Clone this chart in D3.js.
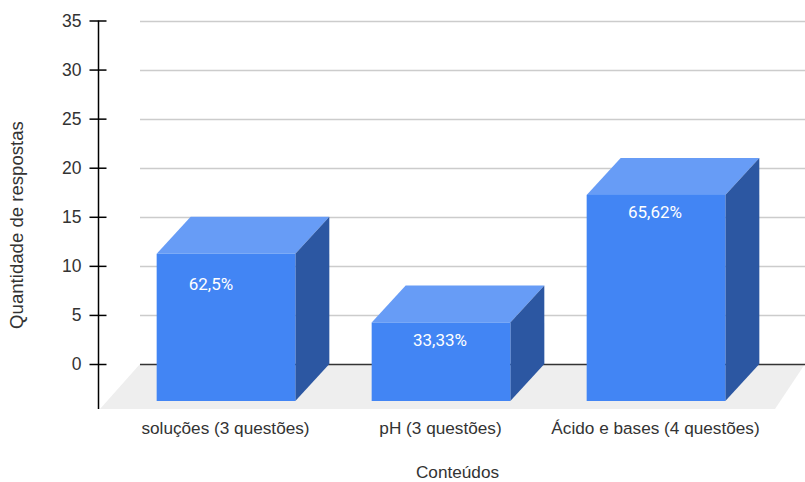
<!DOCTYPE html>
<html>
<head>
<meta charset="utf-8">
<script src="https://cdn.jsdelivr.net/npm/d3@7"></script>
<style>
html, body { margin: 0; padding: 0; background: #fff; }
svg { display: block; }
text { font-family: "Liberation Sans", Arial, sans-serif; }
</style>
</head>
<body>
<svg id="chart" width="805" height="482"></svg>
<script>
const categories = ["soluções (3 questões)", "pH (3 questões)", "Ácido e bases (4 questões)"];
const responses = [15, 8, 21];
const percentLabels = ["62,5%", "33,33%", "65,62%"];
const yTicks = [0, 5, 10, 15, 20, 25, 30, 35];
const xTitle = "Conteúdos";
const yTitle = "Quantidade de respostas";

const svg = d3.select("#chart");

// Oblique projection: the back wall is shifted up and to the right of the bar fronts.
const depthX = 34, depthY = 37;
const y = d3.scaleLinear().domain([0, 35]).range([364, 20.5]);
const x = d3.scaleBand().domain(categories).range([118.5, 763.5]).paddingInner(0.355).paddingOuter(0.1775);

// Floor
svg.append("polygon")
  .attr("points", "140,364 805,364 775,409 100,409")
  .attr("fill", "#eeeeee");

// Back wall grid
svg.append("g").selectAll("line")
  .data(yTicks)
  .join("line")
  .attr("x1", 140).attr("x2", 805)
  .attr("y1", d => Math.round(y(d)) + 0.5).attr("y2", d => Math.round(y(d)) + 0.5)
  .attr("stroke", d => d === 0 ? "#333" : "#ccc")
  .attr("stroke-width", 1.5);

// Value axis
const axis = d3.axisLeft(y).tickValues(yTicks).tickFormat(d3.format("d")).tickSize(9).tickSizeOuter(0);
const axisG = svg.append("g").attr("transform", "translate(98.5,0)").call(axis);
axisG.select(".domain").remove();
axisG.selectAll(".tick line").attr("x1", -9).attr("x2", 8).attr("stroke", "#000").attr("stroke-width", 1.5);
axisG.selectAll(".tick text").attr("x", -17).attr("font-size", 17.5).attr("fill", "#333")
  .style("font-family", '"Liberation Sans", Arial, sans-serif');
svg.append("line").attr("x1", 98.5).attr("x2", 98.5).attr("y1", y(35)).attr("y2", 409)
  .attr("stroke", "#000").attr("stroke-width", 1.5);

// Bars: front, top and side faces
const frontBase = y(0) + depthY;
const bars = svg.append("g").selectAll("g").data(categories).join("g");
const left = (d) => x(d);
const right = (d) => x(d) + x.bandwidth();
const frontTop = (i) => y(responses[i]) + depthY;

bars.append("polygon")
  .attr("points", (d, i) => [
    [left(d), frontTop(i)], [left(d) + depthX, y(responses[i])],
    [right(d) + depthX, y(responses[i])], [right(d), frontTop(i)]
  ].join(" "))
  .attr("fill", "#679cf6");
bars.append("polygon")
  .attr("points", (d, i) => [
    [right(d), frontTop(i)], [right(d) + depthX, y(responses[i])],
    [right(d) + depthX, y(0)], [right(d), frontBase]
  ].join(" "))
  .attr("fill", "#2c57a2");
bars.append("rect")
  .attr("x", d => left(d)).attr("width", x.bandwidth())
  .attr("y", (d, i) => frontTop(i)).attr("height", (d, i) => frontBase - frontTop(i))
  .attr("fill", "#4285f4");

// Percentage labels on the bar fronts
const labelShiftX = [-15, -1, -1];
const labelShiftY = [30, 18, 17];
bars.append("text")
  .attr("x", (d, i) => x(d) + x.bandwidth() / 2 + labelShiftX[i])
  .attr("y", (d, i) => frontTop(i) + labelShiftY[i])
  .attr("dy", "0.35em")
  .attr("text-anchor", "middle")
  .attr("font-size", 17)
  .attr("fill", "#fff")
  .style("font-family", "Roboto, sans-serif")
  .text((d, i) => percentLabels[i]);

// Category labels
svg.append("g").selectAll("text").data(categories).join("text")
  .attr("x", d => x(d) + x.bandwidth() / 2 - 0.5)
  .attr("y", 434)
  .attr("text-anchor", "middle")
  .attr("font-size", 17.2)
  .attr("fill", "#333")
  .text(d => d);

// Axis titles
svg.append("text").attr("x", 457.5).attr("y", 478.3).attr("text-anchor", "middle")
  .attr("font-size", 17.2).attr("fill", "#333").text(xTitle);
svg.append("text").attr("transform", "translate(23,225) rotate(-90)").attr("text-anchor", "middle")
  .attr("font-size", 18.6).attr("fill", "#333").text(yTitle);
</script>
</body>
</html>
